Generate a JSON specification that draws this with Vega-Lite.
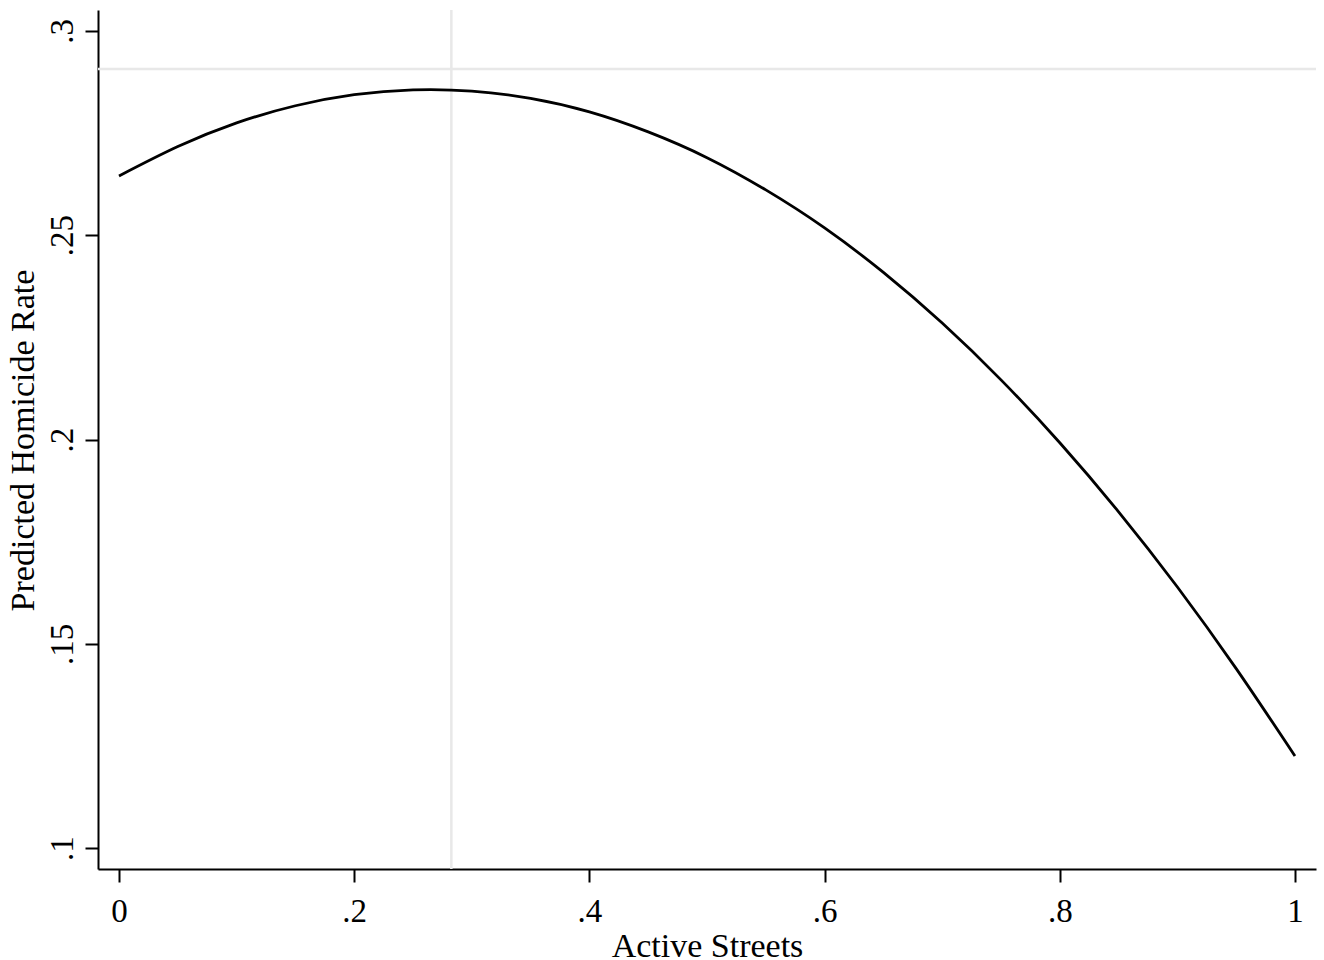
{
  "$schema": "https://vega.github.io/schema/vega-lite/v6.json",
  "autosize": {"type": "none"},
  "padding": {"left": 98, "top": 10, "right": 8, "bottom": 91},
  "width": 1218,
  "height": 859,
  "background": "white",
  "config": {
    "view": {"stroke": null},
    "font": "Liberation Serif"
  },
  "datasets": {
    "curve": [
      {"x": 0.00, "y": 0.2645},
      {"x": 0.05, "y": 0.2717},
      {"x": 0.10, "y": 0.2775},
      {"x": 0.15, "y": 0.2817},
      {"x": 0.20, "y": 0.2844},
      {"x": 0.25, "y": 0.2856},
      {"x": 0.30, "y": 0.2853},
      {"x": 0.35, "y": 0.2835},
      {"x": 0.40, "y": 0.2802},
      {"x": 0.45, "y": 0.2753},
      {"x": 0.50, "y": 0.2690},
      {"x": 0.55, "y": 0.2611},
      {"x": 0.60, "y": 0.2518},
      {"x": 0.65, "y": 0.2409},
      {"x": 0.70, "y": 0.2285},
      {"x": 0.75, "y": 0.2146},
      {"x": 0.80, "y": 0.1992},
      {"x": 0.85, "y": 0.1823},
      {"x": 0.90, "y": 0.1639},
      {"x": 0.95, "y": 0.1439},
      {"x": 1.00, "y": 0.1225}
    ],
    "vref": [{"x": 0.2826}],
    "href": [{"y": 0.2907}]
  },
  "layer": [
    {
      "data": {"name": "vref"},
      "mark": {"type": "rule", "color": "#e8e8e8", "strokeWidth": 2.5},
      "encoding": {
        "x": {"field": "x", "type": "quantitative", "scale": {"domain": [-0.01786, 1.01786], "nice": false, "zero": false}}
      }
    },
    {
      "data": {"name": "href"},
      "mark": {"type": "rule", "color": "#e8e8e8", "strokeWidth": 2.5},
      "encoding": {
        "y": {"field": "y", "type": "quantitative", "scale": {"domain": [0.09486, 0.30514], "nice": false, "zero": false}}
      }
    },
    {
      "data": {"name": "curve"},
      "mark": {"type": "line", "color": "#000000", "strokeWidth": 2.8, "interpolate": "natural"},
      "encoding": {
        "x": {
          "field": "x", "type": "quantitative",
          "scale": {"domain": [-0.01786, 1.01786], "nice": false, "zero": false},
          "axis": {
            "title": "Active Streets",
            "values": [0, 0.2, 0.4, 0.6, 0.8, 1],
            "labelExpr": "replace(format(datum.value, '~g'), '0.', '.')",
            "grid": false,
            "domainColor": "#000000", "domainWidth": 2,
            "tickColor": "#000000", "tickWidth": 2, "tickSize": 13,
            "labelFont": "Liberation Serif", "labelFontSize": 33, "labelColor": "#000000",
            "labelPadding": 13, "labelBaseline": "top", "labelAlign": "center",
            "titleFont": "Liberation Serif", "titleFontSize": 34, "titleFontWeight": "normal", "titleColor": "#000000",
            "titleX": 609, "titleY": 87, "titleBaseline": "alphabetic", "titleAlign": "center"
          }
        },
        "y": {
          "field": "y", "type": "quantitative",
          "scale": {"domain": [0.09486, 0.30514], "nice": false, "zero": false},
          "axis": {
            "title": "Predicted Homicide Rate",
            "values": [0.1, 0.15, 0.2, 0.25, 0.3],
            "labelExpr": "replace(format(datum.value, '~g'), '0.', '.')",
            "grid": false,
            "domainColor": "#000000", "domainWidth": 2,
            "tickColor": "#000000", "tickWidth": 2, "tickSize": 13,
            "labelFont": "Liberation Serif", "labelFontSize": 33, "labelColor": "#000000",
            "labelAngle": -90, "labelAlign": "center", "labelBaseline": "alphabetic", "labelPadding": 13,
            "titleFont": "Liberation Serif", "titleFontSize": 34, "titleFontWeight": "normal", "titleColor": "#000000",
            "titleAngle": -90, "titleX": -75, "titleY": 430, "titleAlign": "center", "titleBaseline": "middle"
          }
        }
      }
    }
  ]
}
